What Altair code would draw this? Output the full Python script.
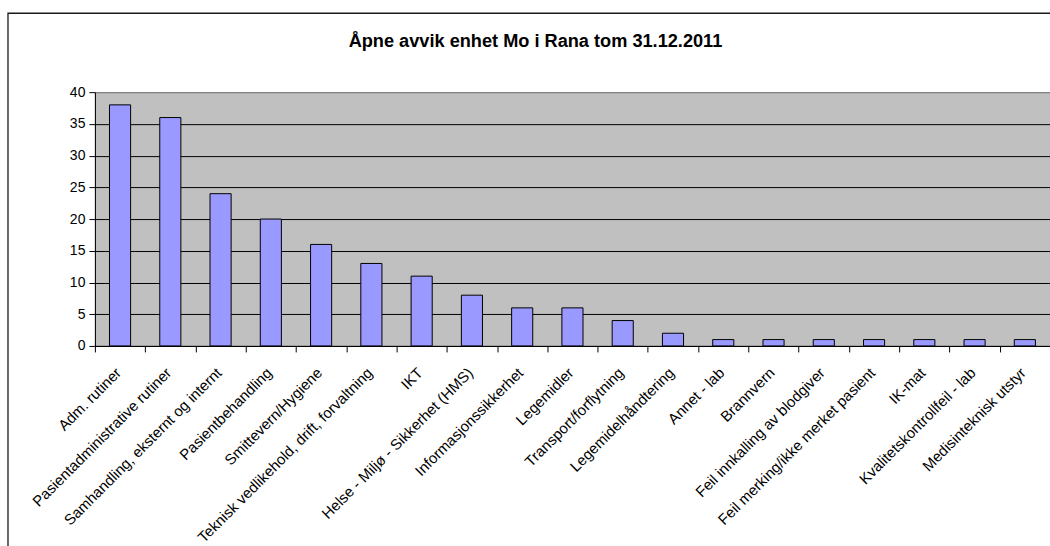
import altair as alt
import pandas as pd

# Open deviations per category, Mo i Rana unit, as of 31.12.2011
categories = [
    "Adm. rutiner",
    "Pasientadministrative rutiner",
    "Samhandling, eksternt og internt",
    "Pasientbehandling",
    "Smittevern/Hygiene",
    "Teknisk vedlikehold, drift, forvaltning",
    "IKT",
    "Helse - Miljø - Sikkerhet (HMS)",
    "Informasjonssikkerhet",
    "Legemidler",
    "Transport/forflytning",
    "Legemidelhåndtering",
    "Annet - lab",
    "Brannvern",
    "Feil innkalling av blodgiver",
    "Feil merking/ikke merket pasient",
    "IK-mat",
    "Kvalitetskontrollfeil - lab",
    "Medisinteknisk utstyr",
]
counts = [38, 36, 24, 20, 16, 13, 11, 8, 6, 6, 4, 2, 1, 1, 1, 1, 1, 1, 1]
y_ticks = [0, 5, 10, 15, 20, 25, 30, 35, 40]
title_text = "Åpne avvik enhet Mo i Rana tom 31.12.2011"

df = pd.DataFrame({"kategori": categories, "antall": counts})
single = pd.DataFrame({"tittel": [title_text]})

FONT = "Liberation Sans"

bars = alt.Chart(df).mark_bar(
    color="#9999FF",
    stroke="#000000",
    strokeWidth=1,
    width=alt.RelativeBandSize(0.42),
).encode(
    x=alt.X(
        "kategori:N",
        sort=categories,
        scale=alt.Scale(paddingInner=0, paddingOuter=0),
        axis=alt.Axis(
            title=None,
            labelAngle=-45,
            labelAlign="right",
            labelBaseline="middle",
            labelPadding=18,
            labelOffset=-2,
            labelFont=FONT,
            labelFontSize=15,
            labelColor="#000000",
            labelLimit=400,
            tickBand="extent",
            tickSize=6,
            tickColor="#000000",
            domainColor="#000000",
            grid=False,
        ),
    ),
    y=alt.Y(
        "antall:Q",
        scale=alt.Scale(domain=[0, 40], nice=False),
        axis=alt.Axis(
            title=None,
            values=y_ticks,
            labelFont=FONT,
            labelFontSize=14,
            labelColor="#000000",
            labelPadding=4,
            tickSize=6,
            tickColor="#000000",
            domainColor="#000000",
            grid=True,
            gridColor={
                "condition": {"test": "datum.value === 40", "value": "#808080"},
                "value": "#000000",
            },
            gridWidth=1,
        ),
    ),
)

# Frame around the whole chart area
frame = alt.Chart(single).mark_rect(
    fill=None, stroke="#1a1a1a", strokeWidth=1.3, clip=False
).encode(
    x=alt.value(-87),
    x2=alt.value(980),
    y=alt.value(-79),
    y2=alt.value(480),
)

# Chart heading, placed above the plot area
heading = alt.Chart(single).mark_text(
    font=FONT,
    fontSize=18.2,
    fontWeight="bold",
    color="#000000",
    align="center",
    baseline="alphabetic",
    clip=False,
).encode(
    x=alt.value(441),
    y=alt.value(-45),
    text="tittel:N",
)

chart = alt.layer(frame, bars, heading).properties(
    width=956,
    height=254,
    padding={"left": 95, "top": 92, "right": 0, "bottom": 200},
    autosize=alt.AutoSizeParams(type="none"),
    background="#FFFFFF",
).configure_view(
    fill="#C0C0C0",
    stroke="#808080",
    strokeWidth=1,
)

chart.save("out.html", embed_options={"renderer": "svg", "actions": False})
